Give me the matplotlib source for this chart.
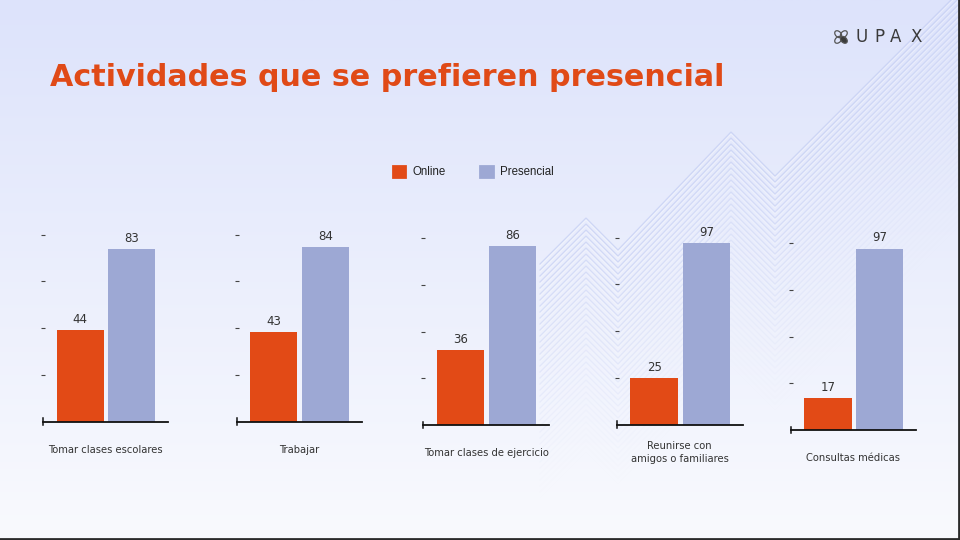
import matplotlib
matplotlib.use("Agg")
import matplotlib.pyplot as plt
import numpy as np
from matplotlib.patches import Patch, Ellipse
from matplotlib.lines import Line2D

# ---------------- data ----------------
categories = ["Tomar clases escolares", "Trabajar", "Tomar clases de ejercicio",
              "Reunirse con\namigos o familiares", "Consultas médicas"]
online = [44, 43, 36, 25, 17]
presencial = [83, 84, 86, 97, 97]
series_names = ["Online", "Presencial"]
axis_max = [90, 90, 90, 100, 100]
title = "Actividades que se prefieren presencial"
brand = "UPAX"

# ---------------- style ----------------
ORANGE = "#E24A16"
PURPLE = "#9DA8D4"
TITLE_C = "#E04A17"
TEXT_C = "#333333"
W, H = 960, 540

fig = plt.figure(figsize=(9.6, 5.4), dpi=100)

# background gradient + decorative chevrons
bg = fig.add_axes([0, 0, 1, 1], zorder=-10)
g = np.linspace(0, 1, 256)[:, None, None]
top = np.array([221, 227, 251]) / 255
bot = np.array([249, 250, 254]) / 255
img = top[None, None, :] * (1 - g) + bot[None, None, :] * g
img = np.repeat(img, 2, axis=1)
bg.imshow(img, aspect="auto", extent=[0, W, H, 0])
bg.set_xlim(0, W)
bg.set_ylim(H, 0)
bg.axis("off")
cx = np.array([540, 586, 618, 731, 775, 990])
cy = np.array([264, 218, 250, 132, 176, -39])
n_lines = 40
for k in range(n_lines):
    a = 0.7 * (1 - k / n_lines) ** 1.4
    bg.plot(cx, cy + k * 6, color="#C3CDF3", lw=0.9, alpha=a, solid_joinstyle="miter")
    bg.plot(cx, cy + k * 6 + 2, color="#FFFFFF", lw=0.7, alpha=a * 0.5, solid_joinstyle="miter")
# border
bg.plot([0, W - 1, W - 1], [H - 1, H - 1, 0], color="#2b2b2b", lw=2.0)

# title
t = fig.text(50 / W, 1 - 77 / H, title, fontsize=24, fontweight="bold",
             color=TITLE_C, va="center", ha="left", family="DejaVu Sans")
fig.canvas.draw()
bb = t.get_window_extent()
t.set_fontsize(24 * 675 / bb.width)

# logo
for ch, xc in zip(brand, [861.5, 879, 895.5, 916]):
    fig.text(xc / W, 1 - 37.5 / H, ch, fontsize=12, color="#3a3a3a", ha="center",
             va="center", family="DejaVu Sans")
icx, icy = 841, 37
for ang, filled in [(45, False), (135, False), (225, False), (315, True)]:
    r = np.deg2rad(ang)
    px, py = icx + 4.0 * np.cos(r), icy - 4.0 * np.sin(r)
    bg.add_patch(Ellipse((px, py), 8, 5.5, angle=-ang, facecolor="#3a3a3a" if filled else "none",
                         edgecolor="#555555", lw=0.9))

# legend
handles = [Patch(facecolor=ORANGE, edgecolor=ORANGE, lw=2, joinstyle="round"),
           Patch(facecolor=PURPLE, edgecolor=PURPLE, lw=2, joinstyle="round")]
fig.legend(handles, series_names, loc="center", bbox_to_anchor=(473 / W, 1 - 172 / H),
           ncol=2, frameon=False, prop={"family": "Liberation Sans", "size": 8.3},
           handlelength=1.1, handleheight=1.1, handletextpad=0.6, columnspacing=3.0,
           labelcolor="#222222")

# panels
panel_px = [(43, 168, 421.7), (236.7, 361.7, 421.7), (423.3, 549, 425),
            (616.7, 742.7, 424.7), (790.7, 916, 430)]
AX_H = 187
for i, (l, r, b) in enumerate(panel_px):
    ax = fig.add_axes([l / W, 1 - b / H, (r - l) / W, AX_H / H])
    ax.patch.set_alpha(0)
    vals = [online[i], presencial[i]]
    ax.bar([0, 1], vals, width=0.91, color=[ORANGE, PURPLE], zorder=2)
    ax.set_xlim(-0.72, 1.70)
    ax.set_ylim(0, axis_max[i])
    ax.set_yticks(np.linspace(0, axis_max[i], 5)[1:])
    ax.set_yticklabels([])
    ax.tick_params(axis="y", length=2.5, width=0.8, color="#444444", direction="inout")
    ax.set_xticks([])
    for s in ["top", "right", "left"]:
        ax.spines[s].set_visible(False)
    ax.spines["bottom"].set_color("#111111")
    ax.spines["bottom"].set_linewidth(1.3)
    ax.add_line(Line2D([0, 0], [-0.018, 0.018], transform=ax.transAxes, color="#111111",
                       lw=1.1, clip_on=False))
    for x, v in zip([0, 1], vals):
        ax.annotate(str(v), (x, v), xytext=(0, 3), textcoords="offset points",
                    ha="center", va="bottom", fontsize=8.5, color=TEXT_C)
    ax.text(0.5, -28 / AX_H, categories[i], transform=ax.transAxes, ha="center",
            va="center", fontsize=7.2, color=TEXT_C, linespacing=1.45)

fig.savefig("out.png", dpi=100)
